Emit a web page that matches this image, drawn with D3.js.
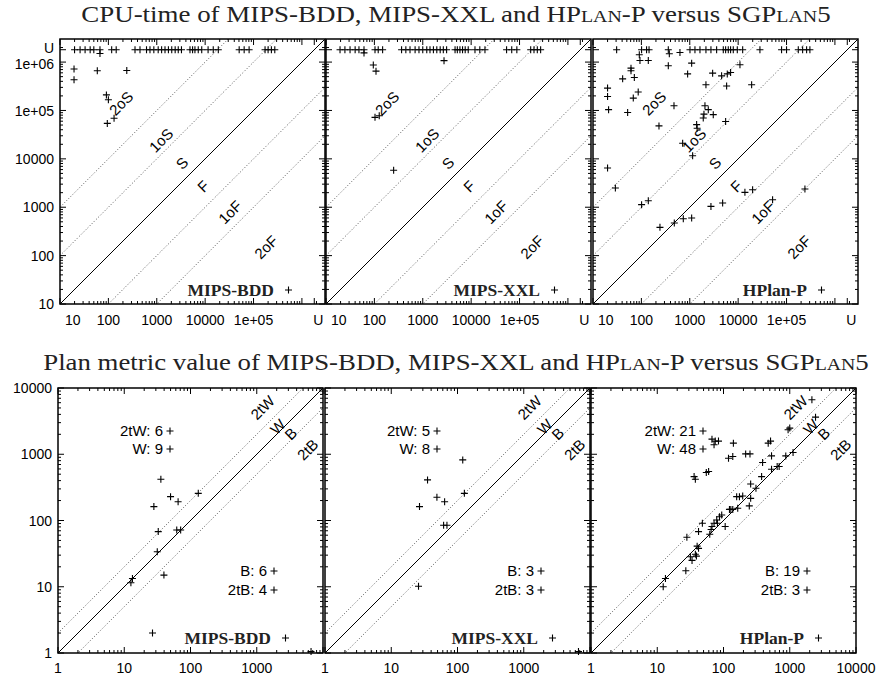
<!DOCTYPE html>
<html><head><meta charset="utf-8">
<script src="https://cdnjs.cloudflare.com/ajax/libs/d3/7.8.5/d3.min.js"></script>
<style>
body{margin:0;background:#fff}
svg{display:block}
</style></head><body>
<svg id="chart" width="882" height="679"></svg>
<script>
// ---- data -------------------------------------------------------------
// CPU time in ms; U marks an unsolved instance (time-out)
const U = 1.8e6;
const cpuDomain = [10, 3e6];
const cpuTickValues = [10, 100, 1000, 10000, 1e5, 1e6];
const cpuTickLabels = ["10", "100", "1000", "10000", "1e+05", "1e+06"];

// [SGPlan5 time, planner time]
const cpuBDD = [[19.5,7.2e5],[19.5,4.3e5],[59,6.6e5],[240,6.7e5],[91,2.1e5],[100,1.66e5],[95,5.4e4],[131,6.9e4],[67,1.5e6]];
// SGPlan5 time of instances the planner did not solve
const cpuBDDUnsolved = [20,26,33,42,50,67,117,145,355,450,614,724,870,1070,1260,1480,1740,2040,2400,2780,3240,4860,5500,6150,7200,8500,11500,14700,18700,50500,64000,81000,173000,200000,234000,275000];

const cpuXXL = [[61,1.55e6],[2750,1.07e6],[95,8.7e5],[108,6.5e5],[103,7.2e4],[126,7.8e4],[250,5800]];
const cpuXXLUnsolved = [19.5,24.6,31.4,40,48,61,103,120,148,365,447,545,694,835,1000,1210,1410,1660,1950,2290,2660,3110,4650,5180,5860,6640,7530,8700,12000,15100,19300,54000,69000,88000,170000,199000,233000,273000];

const cpuHPlan = [[90.6,1.42e6],[93.5,1.08e6],[139,1.08e6],[378,1.49e6],[627,1.58e6],[360,8.4e5],[1094,9.5e5],[41,4.5e5],[61,6.6e5],[61,7.5e5],[71.5,4.8e5],[903,5.7e5],[2970,5.9e5],[4550,5.2e5],[5960,5.7e5],[6980,6.1e5],[10900,8.8e5],[2160,3.4e5],[5780,3.2e5],[19000,3.4e5],[20,2.9e5],[20,1.95e5],[21,1.04e5],[68,1.8e5],[86,2.4e5],[52,9.1e4],[472,1.25e5],[2060,1.25e5],[2415,1.04e5],[1965,8.4e4],[1900,7.0e4],[3060,8.2e4],[231,4.8e4],[1387,5.1e4],[1420,4.3e4],[5510,5.9e4],[713,2.1e4],[1146,1.16e4],[20,6460],[29,2500],[101,1130],[139,1365],[242,384],[479,472],[735,580],[1094,600],[2740,1040],[4780,1220],[13800,2030],[19900,2300],[51500,1430],[240000,2380]];
const cpuHPlanUnsolved = [30.8,101,128,144,360,1010,1280,1625,2160,2740,3590,4930,5510,6250,6980,7930,9600,12400,28200,79000,100000,175000,215000,260000,304000];

// plan metric value: [SGPlan5, planner]
const metricDomain = [1, 10000];
const metricTickValues = [1, 10, 100, 1000, 10000];
const metricTickLabels = ["1", "10", "100", "1000", "10000"];

const metricBDD = [[35.7,419],[50,229],[65,192],[28,162],[131,257],[32.6,68],[62,72],[71,72],[31.5,33.7],[39.7,15],[13.3,13.3],[12.6,11.5],[26.7,2],[6600,1.05]];
const metricXXL = [[120,822],[35.3,410],[48.9,224],[63.9,192],[26.7,162],[127,257],[61.7,85],[69.3,85],[25.8,10.2],[6700,1.05]];
const metricHPlan = [[2160,6640],[2450,3630],[944,2340],[1000,2480],[67,1690],[75,1580],[84,1580],[72,1390],[141,1470],[473,1470],[513,1580],[531,944],[871,944],[1122,1060],[216,1013],[251,1013],[119,871],[138,923],[389,749],[376,460],[531,594],[646,652],[692,652],[36,460],[37.6,419],[55,529],[59.6,548],[257,356],[309,306],[257,216],[158,229],[174,229],[195,234],[129,147],[138,147],[123,147],[164,153],[245,166],[87,114],[94,121],[79,102],[81,91],[72,91],[67,81],[65,73],[62,62],[106,81],[48,91],[42,68],[40,41],[42,38],[37.6,31],[31.6,28.3],[33.5,25],[39,29],[28,56],[27,17.4],[13.3,13.3],[12.3,10]];

const plannerNames = ["MIPS-BDD", "MIPS-XXL", "HPlan-P"];
const metricCounts = [
  {tw: 6, w: 9, b: 6, tb: 4},
  {tw: 5, w: 8, b: 3, tb: 3},
  {tw: 21, w: 48, b: 19, tb: 3}
];

// ratio lines and the zone names written beside them
const cpuRatios = [100, 10, 1, 0.1, 0.01];
const cpuZones = [
  {t: "2oS", x: 182, y: 1.42e5}, {t: "1oS", x: 1220, y: 2.44e4},
  {t: "S", x: 3310, y: 8190}, {t: "F", x: 9020, y: 2740},
  {t: "1oF", x: 32500, y: 795}, {t: "2oF", x: 1.8e5, y: 151}
];
const metricRatios = [2, 1, 0.5];
const metricZones = [
  {t: "2tW", x: 1220, y: 5090}, {t: "W", x: 2060, y: 2620},
  {t: "B", x: 3235, y: 2060}, {t: "2tB", x: 5850, y: 1180}
];

// ---- drawing ----------------------------------------------------------
const svg = d3.select("#chart");
const SIZE = 265;
const SANS = "'Liberation Sans', Arial, sans-serif";
const SERIF = "'Liberation Serif', 'Times New Roman', serif";
const TICK_FONT = 14;

function minorTicks(domain, mult) {
  const out = [];
  for (let d = Math.floor(Math.log10(domain[0])); d <= Math.ceil(Math.log10(domain[1])); d++) {
    mult.forEach(m => { const v = m * Math.pow(10, d); if (v > domain[0] && v < domain[1]) out.push(v); });
  }
  return out;
}

function plus(g, pts, x, y) {
  g.selectAll(null).data(pts).enter().append("path")
    .attr("d", d => `M${x(d[0]) - 3.5},${y(d[1])}h7M${x(d[0])},${y(d[1]) - 3.5}v7`)
    .attr("stroke", "#000").attr("stroke-width", 1.1).attr("fill", "none");
}

function ticks(g, x, y, majors, minors) {
  const [x0, x1] = x.range(), [y0, y1] = y.range();
  const seg = (vals, len, horiz) => {
    vals.forEach(v => {
      if (horiz) {
        const p = x(v);
        g.append("line").attr("x1", p).attr("x2", p).attr("y1", y0).attr("y2", y0 - len);
        g.append("line").attr("x1", p).attr("x2", p).attr("y1", y1).attr("y2", y1 + len);
      } else {
        const p = y(v);
        g.append("line").attr("y1", p).attr("y2", p).attr("x1", x0).attr("x2", x0 + len);
        g.append("line").attr("y1", p).attr("y2", p).attr("x1", x1).attr("x2", x1 - len);
      }
    });
  };
  seg(majors, 6, true); seg(majors, 6, false);
  seg(minors, 3, true); seg(minors, 3, false);
  g.selectAll("line").attr("stroke", "#000").attr("stroke-width", 1);
}

// serif heading with small-caps "LAN", stretched horizontally to its width
function title(yBase, lead, width) {
  const cx = 456;
  const t = svg.append("text").attr("x", 0).attr("y", 0)
    .attr("text-anchor", "middle").attr("font-family", SERIF).attr("font-size", 23)
    .attr("fill", "#222");
  const parts = [[lead + " of MIPS-BDD, MIPS-XXL and HP", 23], ["LAN", 17], ["-P versus SGP", 23], ["LAN", 17], ["5", 23]];
  parts.forEach(p => t.append("tspan").attr("font-size", p[1]).text(p[0]));
  const w = t.node().getComputedTextLength();
  t.attr("transform", `translate(${cx},${yBase}) scale(${width / w},1)`);
}

title(22, "CPU-time", 750);
title(370, "Plan metric value", 826);

// top row: CPU time
const cpuSets = [[cpuBDD, cpuBDDUnsolved], [cpuXXL, cpuXXLUnsolved], [cpuHPlan, cpuHPlanUnsolved]];
[60, 326, 593].forEach((left, i) => {
  const top = 39;
  const x = d3.scaleLog().domain(cpuDomain).range([left, left + SIZE]);
  const y = d3.scaleLog().domain(cpuDomain).range([top + SIZE, top]);
  const g = svg.append("g");
  const clipId = "cpu" + i;
  g.append("clipPath").attr("id", clipId).append("rect")
    .attr("x", left).attr("y", top).attr("width", SIZE).attr("height", SIZE);

  const lines = g.append("g").attr("clip-path", `url(#${clipId})`);
  cpuRatios.forEach(r => {
    lines.append("line")
      .attr("x1", x(cpuDomain[0])).attr("y1", y(cpuDomain[0] * r))
      .attr("x2", x(cpuDomain[1])).attr("y2", y(cpuDomain[1] * r))
      .attr("stroke", r === 1 ? "#000" : "#444")
      .attr("stroke-width", r === 1 ? 1 : 0.9)
      .attr("stroke-dasharray", r === 1 ? null : "1,2");
  });

  g.selectAll(null).data(cpuZones).enter().append("text")
    .attr("transform", d => `translate(${x(d.x)},${y(d.y)}) rotate(-45)`)
    .attr("text-anchor", "middle").attr("dominant-baseline", "central")
    .attr("font-family", SANS).attr("font-size", 15).text(d => d.t);

  const tg = g.append("g");
  ticks(tg, x, y, cpuTickValues.concat([U]), minorTicks(cpuDomain, [2, 3, 4, 5, 6, 7, 8, 9]));

  // x labels
  const xl = cpuTickValues.slice(0, 5).map((v, k) => ({v, t: cpuTickLabels[k]})).concat([{v: U, t: "U"}]);
  g.selectAll(null).data(xl).enter().append("text")
    .attr("x", d => x(d.v) + (d.v === 10 ? 5 : d.v === U ? 9 : 0))
    .attr("y", top + SIZE + 21)
    .attr("text-anchor", d => d.v === 10 ? "start" : d.v === U ? "end" : "middle")
    .attr("font-family", SANS).attr("font-size", TICK_FONT).text(d => d.t);

  if (i === 0) {
    const yl = cpuTickValues.map((v, k) => ({v, t: cpuTickLabels[k]})).concat([{v: U, t: "U"}]);
    g.selectAll(null).data(yl).enter().append("text")
      .attr("x", left - 6).attr("y", d => y(d.v) + (d.v === U ? -1.5 : d.v === 1e6 ? 1.5 : 0)).attr("dy", "0.36em")
      .attr("text-anchor", "end").attr("font-family", SANS).attr("font-size", TICK_FONT).text(d => d.t);
  }

  plus(g, cpuSets[i][0], x, y);
  plus(g, cpuSets[i][1].map(v => [v, U]), x, y);

  // key
  g.append("text").attr("x", left + 214).attr("y", top + 251).attr("dy", "0.35em")
    .attr("text-anchor", "end").attr("font-family", SERIF).attr("font-weight", "bold")
    .attr("font-size", 17.5).attr("fill", "#222").text(plannerNames[i]);
  g.append("path").attr("d", `M${left + 225},${top + 251}h7M${left + 228.5},${top + 247.5}v7`)
    .attr("stroke", "#000").attr("stroke-width", 1.1);

  g.append("rect").attr("x", left).attr("y", top).attr("width", SIZE).attr("height", SIZE)
    .attr("fill", "none").attr("stroke", "#000").attr("stroke-width", 1.5);
});

// bottom row: plan metric
const metricSets = [metricBDD, metricXXL, metricHPlan];
[58, 325, 591].forEach((left, i) => {
  const top = 388;
  const x = d3.scaleLog().domain(metricDomain).range([left, left + SIZE]);
  const y = d3.scaleLog().domain(metricDomain).range([top + SIZE, top]);
  const g = svg.append("g");
  const clipId = "met" + i;
  g.append("clipPath").attr("id", clipId).append("rect")
    .attr("x", left).attr("y", top).attr("width", SIZE).attr("height", SIZE);

  const lines = g.append("g").attr("clip-path", `url(#${clipId})`);
  metricRatios.forEach(r => {
    lines.append("line")
      .attr("x1", x(metricDomain[0])).attr("y1", y(metricDomain[0] * r))
      .attr("x2", x(metricDomain[1])).attr("y2", y(metricDomain[1] * r))
      .attr("stroke", r === 1 ? "#000" : "#444")
      .attr("stroke-width", r === 1 ? 1 : 0.9)
      .attr("stroke-dasharray", r === 1 ? null : "1,2");
  });

  g.selectAll(null).data(metricZones).enter().append("text")
    .attr("transform", d => `translate(${x(d.x)},${y(d.y)}) rotate(-45)`)
    .attr("text-anchor", "middle").attr("dominant-baseline", "central")
    .attr("font-family", SANS).attr("font-size", 15).text(d => d.t);

  const tg = g.append("g");
  ticks(tg, x, y, metricTickValues, minorTicks(metricDomain, [2, 3, 4, 5, 6, 7, 8, 9]));

  const nx = i === 2 ? 5 : 4;
  g.selectAll(null).data(metricTickValues.slice(0, nx)).enter().append("text")
    .attr("x", d => x(d)).attr("y", top + SIZE + 20)
    .attr("text-anchor", "middle").attr("font-family", SANS).attr("font-size", TICK_FONT)
    .text((d, k) => metricTickLabels[k]);

  if (i === 0) {
    g.selectAll(null).data(metricTickValues).enter().append("text")
      .attr("x", left - 6).attr("y", d => y(d)).attr("dy", "0.36em")
      .attr("text-anchor", "end").attr("font-family", SANS).attr("font-size", TICK_FONT)
      .text((d, k) => metricTickLabels[k]);
  }

  plus(g, metricSets[i], x, y);

  const c = metricCounts[i];
  const keys = [
    {t: `2tW: ${c.tw}`, dx: 105, dy: 43}, {t: `W: ${c.w}`, dx: 105, dy: 61},
    {t: `B: ${c.b}`, dx: 209, dy: 183}, {t: `2tB: ${c.tb}`, dx: 209, dy: 202}
  ];
  keys.forEach(k => {
    g.append("text").attr("x", left + k.dx).attr("y", top + k.dy).attr("dy", "0.35em")
      .attr("text-anchor", "end").attr("font-family", SANS).attr("font-size", 15).text(k.t);
    g.append("path").attr("d", `M${left + k.dx + 3.5},${top + k.dy}h7M${left + k.dx + 7},${top + k.dy - 3.5}v7`)
      .attr("stroke", "#000").attr("stroke-width", 1.1);
  });

  g.append("text").attr("x", left + 213).attr("y", top + 250).attr("dy", "0.35em")
    .attr("text-anchor", "end").attr("font-family", SERIF).attr("font-weight", "bold")
    .attr("font-size", 17.5).attr("fill", "#222").text(plannerNames[i]);
  g.append("path").attr("d", `M${left + 224},${top + 250}h7M${left + 227.5},${top + 246.5}v7`)
    .attr("stroke", "#000").attr("stroke-width", 1.1);

  g.append("rect").attr("x", left).attr("y", top).attr("width", SIZE).attr("height", SIZE)
    .attr("fill", "none").attr("stroke", "#000").attr("stroke-width", 1.5);
});
</script>
</body></html>
